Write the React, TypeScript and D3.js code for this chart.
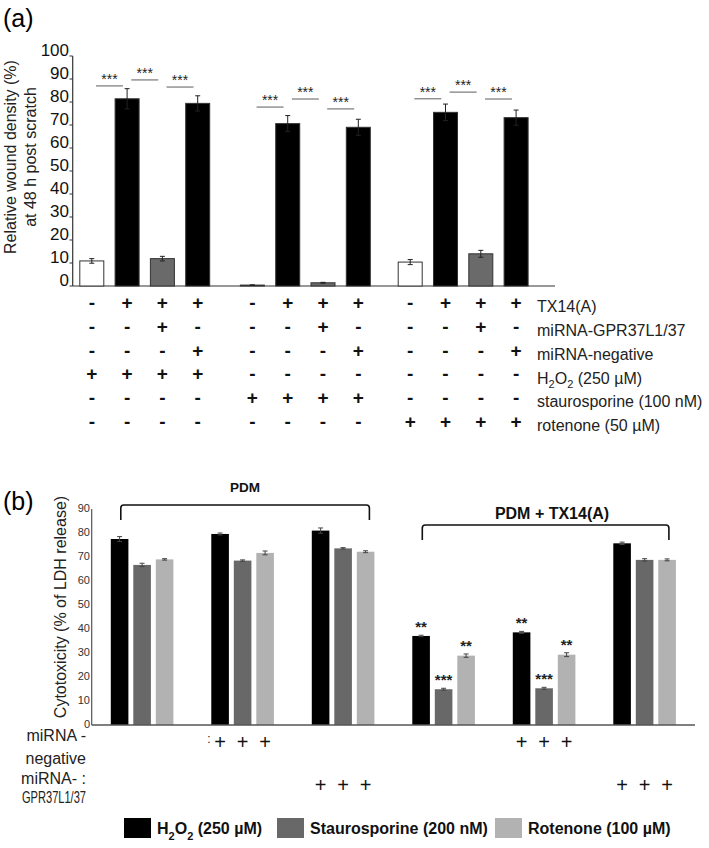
import React from "react";
import * as d3 from "d3";

// ---------- Panel (a) data ----------
const aValues = [10.9, 81.4, 11.9, 79.4, 0.4, 70.6, 1.4, 69.0, 10.4, 75.5, 14.0, 73.2];
const aErrors = [1.0, 4.4, 1.0, 3.3, 0.1, 3.5, 0.2, 3.5, 1.1, 3.6, 1.5, 3.3];
const aTicks = [0, 10, 20, 30, 40, 50, 60, 70, 80, 90, 100];
const aRowLabels = ["TX14(A)", "miRNA-GPR37L1/37", "miRNA-negative", "H2O2 (250 µM)", "staurosporine (100 nM)", "rotenone (50 µM)"];
const aTX14 = [0, 1, 1, 1, 0, 1, 1, 1, 0, 1, 1, 1];
const aMiGPR = [0, 0, 1, 0, 0, 0, 1, 0, 0, 0, 1, 0];
const aMiNeg = [0, 0, 0, 1, 0, 0, 0, 1, 0, 0, 0, 1];
const aH2O2 = [1, 1, 1, 1, 0, 0, 0, 0, 0, 0, 0, 0];
const aStau = [0, 0, 0, 0, 1, 1, 1, 1, 0, 0, 0, 0];
const aRot = [0, 0, 0, 0, 0, 0, 0, 0, 1, 1, 1, 1];
// significance brackets: from bar index (to the next one), and height value
const aSigFrom = [0, 1, 2, 4, 5, 6, 8, 9, 10];
const aSigHeight = [87, 89.6, 86.5, 77.8, 81.3, 77.0, 81.4, 84.3, 81.3];

// ---------- Panel (b) data ----------
const bGroups = [0, 1, 2, 3, 4, 5];
const bSeries = ["H2O2 (250 µM)", "Staurosporine (200 nM)", "Rotenone (100 µM)"];
const bH2O2 = [77.5, 79.6, 81.0, 37.1, 38.6, 75.7];
const bStau = [66.7, 68.5, 73.6, 14.9, 15.3, 68.8];
const bRot = [69.0, 71.7, 72.2, 28.9, 29.3, 68.8];
const bH2O2Err = [1.0, 0.4, 1.1, 0.3, 0.4, 0.5];
const bStauErr = [0.7, 0.3, 0.3, 0.4, 0.4, 0.5];
const bRotErr = [0.3, 0.8, 0.4, 0.7, 0.8, 0.4];
const bStars = [["", "", ""], ["", "", ""], ["", "", ""], ["**", "***", "**"], ["**", "***", "**"], ["", "", ""]];
const bMiNeg = [0, 1, 0, 0, 1, 0];
const bMiGPR = [0, 0, 1, 0, 0, 1];
const bTicks = [0, 10, 20, 30, 40, 50, 60, 70, 80, 90];

const FONT = "'Liberation Sans', Arial, Helvetica, sans-serif";
const bColors = ["#000000", "#686868", "#b2b2b2"];

export default function App() {
  // ---- Panel (a) scales ----
  const aY = d3.scaleLinear().domain([0, 100]).range([286, 56]);
  const groupOffset = [0, 4.55, 9.02];
  const aUnit = d3.scaleLinear().domain([0, 1]).range([79.8, 79.8 + 35.3]);
  const aBarW = 24;
  const aLeft = (i: number) => aUnit(groupOffset[Math.floor(i / 4)] + (i % 4));
  const aCenter = (i: number) => aLeft(i) + aBarW / 2;
  const aRows = [aTX14, aMiGPR, aMiNeg, aH2O2, aStau, aRot];
  const aRowY = d3.scaleLinear().domain([0, 1]).range([304, 327.8]);

  const aFill = (i: number) => (aTX14[i] === 0 ? "#ffffff" : aMiGPR[i] === 1 ? "#6a6a6a" : "#000000");

  // ---- Panel (b) scales ----
  const bY = d3.scaleLinear().domain([0, 90]).range([725, 509]);
  const bX0 = d3.scaleBand<number>().domain(bGroups).range([91.7, 695]).paddingInner(0.377).paddingOuter(0.19);
  const bX1 = d3.scaleBand<number>().domain([0, 1, 2]).range([0, bX0.bandwidth()]).paddingInner(0.218);
  const bVals = [bH2O2, bStau, bRot];
  const bErrs = [bH2O2Err, bStauErr, bRotErr];

  return (
    <svg width={709} height={848} style={{ position: "absolute", left: 0, top: 0, background: "#fff" }} fontFamily={FONT}>
      <rect x={0} y={0} width={709} height={848} fill="#fff" />
      {/* ================= Panel (a) ================= */}
      <text x={3} y={27} fontSize={25}>(a)</text>
      {/* y axis title */}
      <text transform={`translate(16,157) rotate(-90)`} textAnchor="middle" fontSize={16} fill="#222">
        Relative wound density (%)
      </text>
      <text transform={`translate(36,157) rotate(-90)`} textAnchor="middle" fontSize={16} fill="#222">
        at 48 h post scratch
      </text>
      {/* axis */}
      <line x1={72.7} x2={72.7} y1={aY(100)} y2={aY(0)} stroke="#333" strokeWidth={1.2} />
      <line x1={72.7} x2={555} y1={aY(0)} y2={aY(0)} stroke="#333" strokeWidth={1.2} />
      {aTicks.map((t) => (
        <g key={t}>
          <line x1={69.5} x2={72.7} y1={aY(t)} y2={aY(t)} stroke="#333" />
          <text x={69} y={aY(t) - 4} textAnchor="end" dominantBaseline="middle" fontSize={17} fill="#111">
            {t}
          </text>
        </g>
      ))}
      {/* bars */}
      {aValues.map((v, i) => (
        <g key={i}>
          <rect x={aLeft(i)} y={aY(v)} width={aBarW} height={aY(0) - aY(v)} fill={aFill(i)} stroke="#333" strokeWidth={1} />
          <line x1={aCenter(i)} x2={aCenter(i)} y1={aY(v - aErrors[i])} y2={aY(v + aErrors[i])} stroke="#222" strokeWidth={1} />
          <line x1={aCenter(i) - 2.5} x2={aCenter(i) + 2.5} y1={aY(v + aErrors[i])} y2={aY(v + aErrors[i])} stroke="#222" strokeWidth={1} />
          <line x1={aCenter(i) - 2.5} x2={aCenter(i) + 2.5} y1={aY(v - aErrors[i])} y2={aY(v - aErrors[i])} stroke="#222" strokeWidth={1} />
        </g>
      ))}
      {/* significance */}
      {aSigFrom.map((f, k) => {
        const mid = (aCenter(f) + aCenter(f + 1)) / 2;
        const y = aY(aSigHeight[k]);
        return (
          <g key={k}>
            <line x1={mid - 13.5} x2={mid + 13.5} y1={y} y2={y} stroke="#777" strokeWidth={1.2} />
            <text x={mid} y={y - 2} textAnchor="middle" fontSize={14} fill="#222">***</text>
          </g>
        );
      })}
      {/* sign table */}
      {aRows.map((row, r) => (
        <g key={r}>
          {row.map((s, i) => (
            <text key={i} x={aCenter(i)} y={aRowY(r)} textAnchor="middle" dominantBaseline="middle" fontSize={19} fontWeight="bold" fill="#111">
              {s ? "+" : "-"}
            </text>
          ))}
          <text x={537} y={aRowY(r) + 4} dominantBaseline="middle" fontSize={16} fill="#222">
            {r === 3 ? (
              <>
                H<tspan baselineShift="sub" fontSize={11}>2</tspan>O<tspan baselineShift="sub" fontSize={11}>2</tspan> (250 µM)
              </>
            ) : (
              aRowLabels[r]
            )}
          </text>
        </g>
      ))}

      {/* ================= Panel (b) ================= */}
      <text x={3} y={510} fontSize={25}>(b)</text>
      <text transform={`translate(66,607) rotate(-90)`} textAnchor="middle" fontSize={16} fill="#222">
        Cytotoxicity (% of LDH release)
      </text>
      <line x1={91.7} x2={91.7} y1={bY(90)} y2={bY(0)} stroke="#555" strokeWidth={1.2} />
      {bTicks.map((t) => (
        <text key={t} x={90} y={bY(t)} textAnchor="end" dominantBaseline="middle" fontSize={11} fill="#333">
          {t}
        </text>
      ))}
      {/* brackets */}
      <path d={`M${bX0(0)! + 10},${520} L${bX0(0)! + 10},${508} Q${bX0(0)! + 10},${505} ${bX0(0)! + 13},${505} L${bX0(2)! + bX0.bandwidth() - 8},${505} Q${bX0(2)! + bX0.bandwidth() - 5},${505} ${bX0(2)! + bX0.bandwidth() - 5},${508} L${bX0(2)! + bX0.bandwidth() - 5},${520}`} fill="none" stroke="#111" strokeWidth={1.6} />
      <text x={245} y={492} textAnchor="middle" fontSize={13.5} fontWeight="bold" fill="#111">PDM</text>
      <path d={`M${bX0(3)! + 10},${540} L${bX0(3)! + 10},${528} Q${bX0(3)! + 10},${525} ${bX0(3)! + 13},${525} L${bX0(5)! + bX0.bandwidth() - 10},${525} Q${bX0(5)! + bX0.bandwidth() - 7},${525} ${bX0(5)! + bX0.bandwidth() - 7},${528} L${bX0(5)! + bX0.bandwidth() - 7},${540}`} fill="none" stroke="#111" strokeWidth={1.6} />
      <text x={552} y={519} textAnchor="middle" fontSize={16} fontWeight="bold" fill="#111">PDM + TX14(A)</text>
      {/* bars */}
      {bGroups.map((g) => (
        <g key={g}>
          {bVals.map((vals, s) => {
            const x = bX0(g)! + bX1(s)!;
            const w = bX1.bandwidth();
            const v = vals[g];
            const e = bErrs[s][g];
            const cx = x + w / 2;
            return (
              <g key={s}>
                <rect x={x} y={bY(v)} width={w} height={bY(0) - bY(v)} fill={bColors[s]} />
                <line x1={cx} x2={cx} y1={bY(v - e)} y2={bY(v + e)} stroke="#444" strokeWidth={1} />
                <line x1={cx - 2.5} x2={cx + 2.5} y1={bY(v + e)} y2={bY(v + e)} stroke="#444" strokeWidth={1} />
                <line x1={cx - 2.5} x2={cx + 2.5} y1={bY(v - e)} y2={bY(v - e)} stroke="#444" strokeWidth={1} />
                {bStars[g][s] && (
                  <text x={cx} y={bY(v + e) - 3} textAnchor="middle" fontSize={15} fontWeight="bold" fill="#222">
                    {bStars[g][s]}
                  </text>
                )}
              </g>
            );
          })}
        </g>
      ))}
      <line x1={91.7} x2={695} y1={bY(0)} y2={bY(0)} stroke="#555" strokeWidth={1.6} />
      {/* sign table (b) */}
      <text x={86} y={741} textAnchor="end" fontSize={16} fill="#222">miRNA -</text>
      <text x={86} y={764} textAnchor="end" fontSize={16} fill="#222">negative</text>
      <text x={86} y={784} textAnchor="end" fontSize={16} fill="#222">miRNA- :</text>
      <text x={86} y={803} textAnchor="end" fontSize={16} fill="#222" textLength={64} lengthAdjust="spacingAndGlyphs">GPR37L1/37</text>
      <text x={209} y={743} textAnchor="middle" fontSize={12} fill="#222">:</text>
      {bGroups.map((g) =>
        [0, 1, 2].map((s) => {
          const cx = bX0(g)! + bX1(s)! + bX1.bandwidth() / 2;
          return (
            <g key={`${g}-${s}`}>
              {bMiNeg[g] === 1 && (
                <text x={cx} y={744} textAnchor="middle" dominantBaseline="middle" fontSize={20} fill="#111">+</text>
              )}
              {bMiGPR[g] === 1 && (
                <text x={cx} y={787} textAnchor="middle" dominantBaseline="middle" fontSize={20} fill="#111">+</text>
              )}
            </g>
          );
        })
      )}
      {/* legend */}
      {bSeries.map((name, s) => {
        const lx = [124, 277, 495][s];
        return (
          <g key={s}>
            <rect x={lx} y={818} width={27} height={20} fill={bColors[s]} />
            <text x={lx + 33} y={834} fontSize={16} fontWeight="bold" fill="#111">
              {s === 0 ? (
                <>
                  H<tspan baselineShift="sub" fontSize={11}>2</tspan>O<tspan baselineShift="sub" fontSize={11}>2</tspan> (250 µM)
                </>
              ) : (
                name
              )}
            </text>
          </g>
        );
      })}
    </svg>
  );
}
